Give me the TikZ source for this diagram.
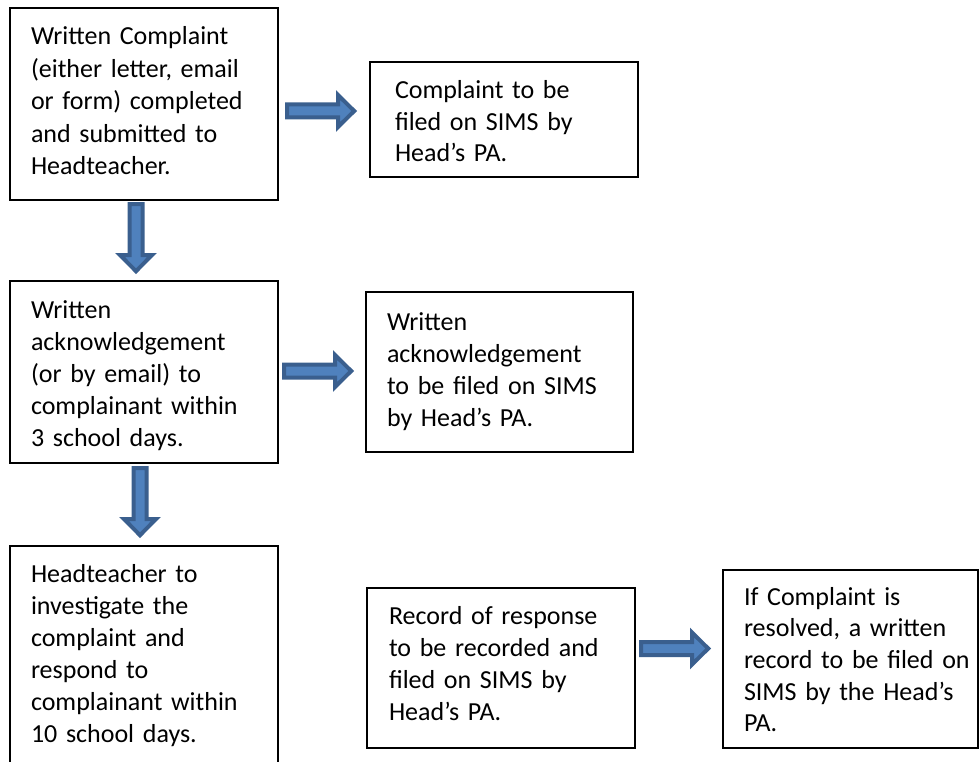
\documentclass[tikz,border=0pt]{standalone}
\usepackage{fontspec}
\setmainfont{Carlito}
\usetikzlibrary{calc}
\definecolor{arrfill}{HTML}{4F81BD}
\definecolor{arrdark}{HTML}{3A5F8E}
\tikzset{
  box/.style={draw=black, line width=1.8pt, fill=none, inner sep=0pt, outer sep=0pt, anchor=north west, rectangle},
  txt/.style={anchor=base west, inner sep=0pt, outer sep=0pt, text width=300pt, align=left, font=\fontsize{26}{32}\selectfont},
  arr/.style={draw=arrdark, fill=arrfill, line width=4pt, line join=miter},
  rarr/.pic={\path[arr] (2,-6.5) -- (53,-6.5) -- (53,-16) -- (69.2,0) -- (53,16) -- (53,6.5) -- (2,6.5) -- cycle;},
  darr/.pic={\path[arr] (-6.5,2) -- (-6.5,53) -- (-16,53) -- (0,69.2) -- (16,53) -- (6.5,53) -- (6.5,2) -- cycle;}
}
\begin{document}
\begin{tikzpicture}[x=1pt, y=-1pt]
\useasboundingbox (0,0) rectangle (979,762);
\clip (0,0) rectangle (979,762);
% boxes
\node[box, minimum width=268, minimum height=192] (b1) at (10,8) {};
\node[box, minimum width=268, minimum height=115] (b2) at (370,62) {};
\node[box, minimum width=268, minimum height=182] (b3) at (10,281) {};
\node[box, minimum width=267, minimum height=160] (b4) at (366,292) {};
\node[box, minimum width=268, minimum height=240] (b5) at (10,546) {};
\node[box, minimum width=268, minimum height=160] (b6) at (367,588) {};
\node[box, minimum width=255, minimum height=178] (b7) at (723,570) {};
% texts
\node[txt] (t1) at ($(b1.north west)+(21,37)$) {Written Complaint\\[0.5pt](either letter, email\\[0.5pt]or form) completed\\[0.5pt]and submitted to\\[0.5pt]Headteacher.};
\node[txt, font=\fontsize{26}{31.5}\selectfont] (t2) at ($(b2.north west)+(25,37)$) {Complaint to be\\filed on SIMS by\\Head’s PA.};
\node[txt] (t3) at ($(b3.north west)+(21,37)$) {Written\\acknowledgement\\(or by email) to\\complainant within\\3 school days.};
\node[txt] (t4) at ($(b4.north west)+(21,38)$) {Written\\acknowledgement\\to be filed on SIMS\\by Head’s PA.};
\node[txt] (t5) at ($(b5.north west)+(21,36)$) {Headteacher to\\investigate the\\complaint and\\respond to\\complainant within\\10 school days.};
\node[txt] (t6) at ($(b6.north west)+(22,36)$) {Record of response\\to be recorded and\\filed on SIMS by\\Head’s PA.};
\node[txt, font=\fontsize{26}{31.7}\selectfont] (t7) at ($(b7.north west)+(21,35)$) {If Complaint is\\resolved, a written\\record to be filed on\\SIMS by the Head’s\\PA.};
% block arrows between boxes
\coordinate (r1) at ($(b1.east)+(7,7)$);
\coordinate (r2) at ($(b3.east)+(4,-1)$);
\coordinate (r3) at ($(b6.east)+(4,-19.5)$);
\coordinate (d1) at ($(b1.south)+(-8,2)$);
\coordinate (d2) at ($(b3.south)+(-4,3)$);
\pic at (r1) {rarr};
\pic at (r2) {rarr};
\pic at (r3) {rarr};
\pic at (d1) {darr};
\pic at (d2) {darr};
\end{tikzpicture}
\end{document}
